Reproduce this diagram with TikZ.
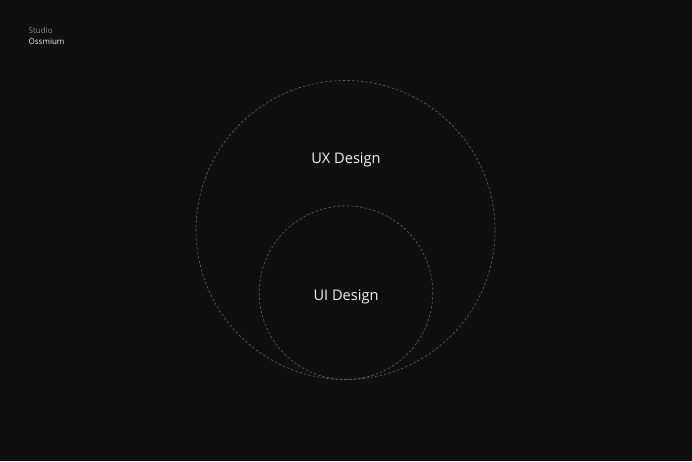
\documentclass[tikz,border=0pt]{standalone}
\usepackage{fontspec}
\setmainfont{Open Sans}
\definecolor{bg}{HTML}{0F0F0F}
\definecolor{ring}{HTML}{626262}
\definecolor{soft}{HTML}{8A8A8A}
\definecolor{ink}{HTML}{F2F2F2}
\begin{document}
\begin{tikzpicture}[x=1pt,y=-1pt]
\fill[bg] (0,0) rectangle (692,461);
\useasboundingbox (0,0) rectangle (692,461);
\draw[ring, dash pattern=on 2.5pt off 2pt, line width=0.6pt] (345.5,230) circle (149.5);
\draw[ring, dash pattern=on 2.5pt off 2pt, line width=0.6pt] (346,292.7) circle (86.8);
\node[anchor=west,inner sep=0,text=soft,font=\fontsize{8}{9}\selectfont] (studio) at (28.5,30){Studio};
\node[anchor=west,inner sep=0,text=ink,font=\fontsize{8}{9}\selectfont] (name) at (28.5,42){Ossmium};
\node[text=ink,font=\fontsize{14.6}{16}\selectfont] (ux) at (346,159.5){UX Design};
\node[text=ink,font=\fontsize{14.6}{16}\selectfont] (ui) at (346,296.5){UI Design};
\end{tikzpicture}
\end{document}
